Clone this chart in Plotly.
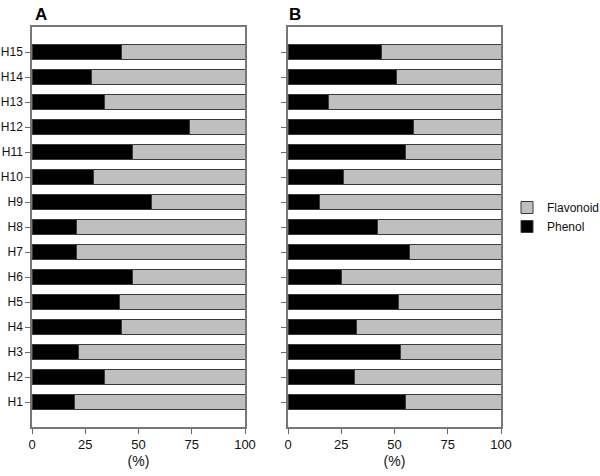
import plotly.graph_objects as go

categories = [f"H{i}" for i in range(1, 16)]
phenol_a = [20, 34, 22, 42, 41, 47, 21, 21, 56, 29, 47, 74, 34, 28, 42]
phenol_b = [55, 31, 53, 32, 52, 25, 57, 42, 15, 26, 55, 59, 19, 51, 44]
flavonoid_a = [100 - v for v in phenol_a]
flavonoid_b = [100 - v for v in phenol_b]
x_ticks = [0, 25, 50, 75, 100]

FONT = "Liberation Sans, Arial, sans-serif"
line = dict(color="#3a3a3a", width=1)

fig = go.Figure()
fig.add_trace(go.Bar(y=categories, x=phenol_a, orientation="h", name="Phenol",
                     marker=dict(color="#000000", line=line), width=0.6,
                     xaxis="x", yaxis="y", legendgroup="p"))
fig.add_trace(go.Bar(y=categories, x=flavonoid_a, orientation="h", name="Flavonoid",
                     marker=dict(color="#bfbfbf", line=line), width=0.6,
                     xaxis="x", yaxis="y", legendgroup="f"))
fig.add_trace(go.Bar(y=categories, x=phenol_b, orientation="h", name="Phenol",
                     marker=dict(color="#000000", line=line), width=0.6,
                     xaxis="x2", yaxis="y2", legendgroup="p", showlegend=False))
fig.add_trace(go.Bar(y=categories, x=flavonoid_b, orientation="h", name="Flavonoid",
                     marker=dict(color="#bfbfbf", line=line), width=0.6,
                     xaxis="x2", yaxis="y2", legendgroup="f", showlegend=False))

ydom = [1 - 427 / 476, 1 - 27 / 476]
axcommon = dict(range=[0, 100], tickvals=x_ticks, ticks="outside", ticklen=5,
                tickcolor="#666", showline=True, linecolor="#777", linewidth=1.5,
                mirror=True, showgrid=False, zeroline=False, automargin=False,
                tickfont=dict(family=FONT, size=13, color="#111"),
                title=dict(text="(%)", font=dict(family=FONT, size=14, color="#111"), standoff=5))
ycommon = dict(range=[-1, 15], ticks="outside", ticklen=5, tickcolor="#666",
               showline=True, linecolor="#777", linewidth=1.5, mirror=True,
               showgrid=False, zeroline=False, domain=ydom, automargin=False,
               categoryorder="array", categoryarray=categories,
               tickfont=dict(family=FONT, size=12, color="#111"))

fig.update_layout(
    width=600, height=476, barmode="stack",
    margin=dict(l=0, r=0, t=0, b=0, autoexpand=False),
    paper_bgcolor="white", plot_bgcolor="white",
    xaxis=dict(domain=[32 / 600, 245 / 600], anchor="y", **axcommon),
    yaxis=dict(anchor="x", **ycommon),
    xaxis2=dict(domain=[288 / 600, 501 / 600], anchor="y2", **axcommon),
    yaxis2=dict(anchor="x2", showticklabels=False, **ycommon),
    legend=dict(x=507 / 600, y=1 - 193 / 476, xanchor="left", yanchor="top",
                traceorder="reversed", font=dict(family=FONT, size=12, color="#111"),
                itemwidth=30, tracegroupgap=0, bgcolor="rgba(0,0,0,0)"),
    annotations=[
        dict(text="<b>A</b>", x=33 / 600, y=1 - 3 / 476, xref="paper", yref="paper",
             xanchor="left", yanchor="top", showarrow=False,
             font=dict(family=FONT, size=17, color="#000")),
        dict(text="<b>B</b>", x=287 / 600, y=1 - 3 / 476, xref="paper", yref="paper",
             xanchor="left", yanchor="top", showarrow=False,
             font=dict(family=FONT, size=17, color="#000")),
    ],
)

fig.write_html("out.html", config={"displayModeBar": False},
               post_script="document.body.style.margin='0';")
